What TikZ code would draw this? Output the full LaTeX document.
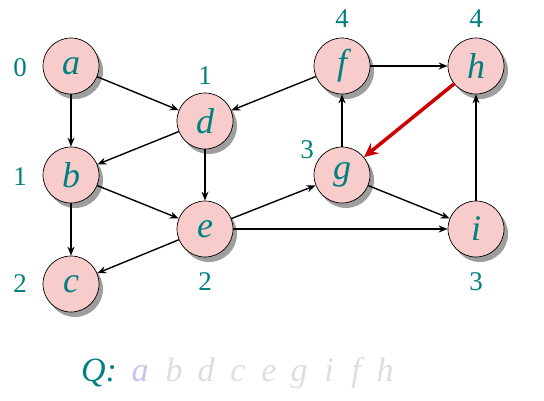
\documentclass[tikz,border=0pt]{standalone}
\usepackage{fontspec}
\setmainfont{Liberation Serif}
\usetikzlibrary{arrows.meta,shadows}
\definecolor{teal1}{RGB}{0,128,128}
\definecolor{nodepink}{RGB}{249,204,204}
\definecolor{redarr}{RGB}{204,0,0}
\definecolor{qlav}{RGB}{196,196,240}
\definecolor{qgray}{RGB}{222,222,222}
\tikzset{
  vtx/.style={circle, draw=black, line width=0.7pt, fill=nodepink, minimum size=56pt, inner sep=0pt,
    font=\fontsize{36}{36}\selectfont\itshape, text=teal1,
    drop shadow={shadow xshift=4pt, shadow yshift=-5pt, fill=gray!85, opacity=0.9}},
  lbl/.style={font=\fontsize{27}{27}\selectfont, text=teal1, inner sep=0pt},
  edge/.style={line width=1.4pt, -{Stealth[length=9pt,width=7pt]}},
  redge/.style={line width=3.5pt, redarr, -{Stealth[length=14pt,width=13pt]}},
  qtxt/.style={font=\fontsize{34}{34}\selectfont\itshape, inner sep=0pt, anchor=base}
}
\begin{document}
\begin{tikzpicture}[x=1pt,y=-1pt]
\useasboundingbox (0,0) rectangle (544,400);
\node[vtx] (a) at (71,66) {a};
\node[vtx] (b) at (71,175) {b};
\node[vtx] (c) at (71,284) {c};
\node[vtx] (d) at (205,121) {d};
\node[vtx] (e) at (205,229) {e};
\node[vtx] (f) at (342,66) {f};
\node[vtx] (h) at (476,66) {h};
\node[vtx] (g) at (342,175) {g};
\node[vtx] (i) at (476,229) {i};
\node[lbl] (la) at (20,68) {0};
\node[lbl] (lb) at (20,177) {1};
\node[lbl] (lc) at (20,284) {2};
\node[lbl] (ld) at (205,76) {1};
\node[lbl] (le) at (205,282) {2};
\node[lbl] (lf) at (342,19) {4};
\node[lbl] (lh) at (476,19) {4};
\node[lbl] (lg) at (307,150) {3};
\node[lbl] (li) at (476,282) {3};
\draw[edge] (a) -- (b);
\draw[edge] (a) -- (d);
\draw[edge] (d) -- (b);
\draw[edge] (b) -- (e);
\draw[edge] (d) -- (e);
\draw[edge] (b) -- (c);
\draw[edge] (e) -- (c);
\draw[edge] (e) -- (g);
\draw[edge] (e) -- (i);
\draw[edge] (g) -- (f);
\draw[edge] (f) -- (d);
\draw[edge] (f) -- (h);
\draw[edge] (g) -- (i);
\draw[edge] (i) -- (h);
\draw[redge] (h) -- (g);
\node[qtxt, text=teal1] (q) at (99,381) {Q:};
\node[qtxt, text=qlav] (q1) at (140,381) {a};
\node[qtxt, text=qgray] (q2) at (174,381) {b};
\node[qtxt, text=qgray] (q3) at (206,381) {d};
\node[qtxt, text=qgray] (q4) at (238,381) {c};
\node[qtxt, text=qgray] (q5) at (269,381) {e};
\node[qtxt, text=qgray] (q6) at (299,381) {g};
\node[qtxt, text=qgray] (q7) at (329,381) {i};
\node[qtxt, text=qgray] (q8) at (356,381) {f};
\node[qtxt, text=qgray] (q9) at (385,381) {h};
\end{tikzpicture}
\end{document}
